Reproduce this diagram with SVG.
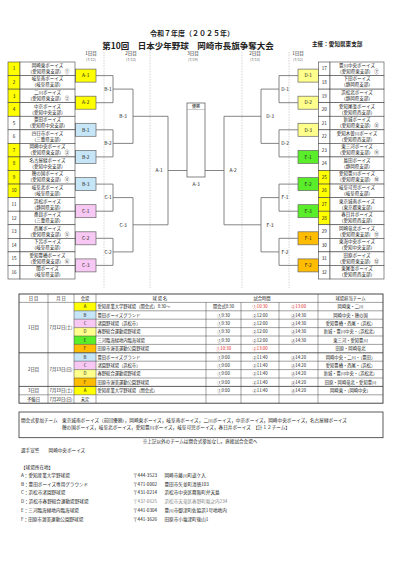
<svg xmlns="http://www.w3.org/2000/svg" width="401" height="568" viewBox="0 0 401 568">
<style>
text{font-family:"Noto Sans CJK JP","Noto Sans",sans-serif;fill:#222}
.ttl{font-weight:bold}
.hd{font-size:4.5px;text-anchor:middle}
.dt{font-size:3.6px;text-anchor:middle;fill:#666}
.num{font-size:4.6px;text-anchor:middle}
.nm{font-size:4.5px;text-anchor:middle}
.lb{font-size:4.8px;text-anchor:middle}
.cell{fill:#fff;stroke:#444;stroke-width:0.6}
.cy{fill:#ffff00;stroke:#444;stroke-width:0.6}
.bx{stroke:#666;stroke-width:0.7}
.ya{fill:#ffff00}.bb{fill:#c6e6f8}.cc{fill:#f8c8f4}.dd{fill:#ffff8c}.ee{fill:#5aee2a}.ff{fill:#ffbc00}
.dash{stroke:#bbb;stroke-width:0.6;stroke-dasharray:1.5 1.2;fill:none}
.ln{stroke:#777;stroke-width:0.9;fill:none}
.tb{font-size:4.3px}
.tc{font-size:4.3px;text-anchor:middle}
.red{fill:#e02020}
.gl{stroke:#444;stroke-width:0.5;fill:none}
.nt{font-size:4.6px}
.gr{fill:#888}
</style>

<!-- titles -->
<text x="192" y="36" class="ttl" style="font-size:7px;text-anchor:middle">令和７年度（２０２５年）</text>
<text x="188" y="48.5" class="ttl" style="font-size:8.5px;text-anchor:middle">第10回　日本少年野球　岡崎市長旗争奪大会</text>
<text x="312" y="45.5" class="ttl" style="font-size:5.6px">主催：愛知県東支部</text>

<!-- round headers -->
<text x="91" y="55" class="hd">1日目</text><text x="91" y="60.5" class="dt">(7/12)</text>
<text x="131" y="55" class="hd">2日目</text><text x="131" y="60.5" class="dt">(7/13)</text>
<text x="193" y="55" class="hd">3日目</text><text x="193" y="60.5" class="dt">(7/19)</text>
<text x="255" y="55" class="hd">2日目</text><text x="255" y="60.5" class="dt">(7/13)</text>
<text x="298" y="55" class="hd">1日目</text><text x="298" y="60.5" class="dt">(7/12)</text>
<path class="dash" d="M104 52V288M150 52V288M242 52V288M289 52V288"/>

<!-- connectors -->
<g id="connectors">
<path class="ln" d="M96 75.6H113V102.7H96M113 89.1H133M96 129.8H113V156.9H96M113 143.4H133M96 184.1H113V211.2H96M113 197.6H133M96 238.3H113V265.4H96M113 251.9H133M133 89.1V143.4M133 116.3H168M133 197.6V251.9M133 224.8H168M168 116.3V224.8M168 170.5H187"/>
<path class="ln" d="M298 75.6H279V102.7H298M279 89.1H261M298 129.8H279V156.9H298M279 143.4H261M298 184.1H279V211.2H298M279 197.6H261M298 238.3H279V265.4H298M279 251.9H261M261 89.1V143.4M261 116.3H224M261 197.6V251.9M261 224.8H224M224 116.3V224.8M224 170.5H205"/>
<text x="108" y="90.8" class="lb">B-1</text>
<text x="108" y="145.1" class="lb">B-2</text>
<text x="108" y="199.3" class="lb">C-1</text>
<text x="108" y="253.6" class="lb">C-2</text>
<text x="123" y="118" class="lb">B-3</text>
<text x="123" y="226.5" class="lb">C-3</text>
<text x="159" y="172.2" class="lb">A-1</text>
<text x="285" y="90.8" class="lb">D-1</text>
<text x="285" y="145.1" class="lb">D-2</text>
<text x="285" y="199.3" class="lb">F-1</text>
<text x="285" y="253.6" class="lb">F-2</text>
<text x="270" y="118" class="lb">D-3</text>
<text x="270" y="226.5" class="lb">F-3</text>
<text x="233" y="172.2" class="lb">A-2</text>
<text x="196" y="185.5" class="lb">A-3</text>
</g>

<!-- final -->
<g id="final">
<rect x="187" y="103" width="18" height="74" fill="#fff" stroke="#666" stroke-width="0.8"/>
<line x1="187" y1="109.5" x2="205" y2="109.5" stroke="#999" stroke-width="0.5"/>
<text x="196" y="108.3" style="font-size:4px;text-anchor:middle">優勝</text>
</g>

<!-- first round match boxes -->
<g id="m-A1"><rect x="75.5" y="69.1" width="20.5" height="13" class="bx ya"/><text x="85.7" y="77.3" class="lb">A-1</text></g>
<g id="m-A2"><rect x="75.5" y="96.2" width="20.5" height="13" class="bx ya"/><text x="85.7" y="104.4" class="lb">A-2</text></g>
<g id="m-B1"><rect x="75.5" y="123.3" width="20.5" height="13" class="bx bb"/><text x="85.7" y="131.5" class="lb">B-1</text></g>
<g id="m-B2"><rect x="75.5" y="150.4" width="20.5" height="13" class="bx bb"/><text x="85.7" y="158.6" class="lb">B-2</text></g>
<g id="m-B3"><rect x="75.5" y="177.6" width="20.5" height="13" class="bx bb"/><text x="85.7" y="185.8" class="lb">B-3</text></g>
<g id="m-C1"><rect x="75.5" y="204.7" width="20.5" height="13" class="bx cc"/><text x="85.7" y="212.9" class="lb">C-1</text></g>
<g id="m-C2"><rect x="75.5" y="231.8" width="20.5" height="13" class="bx cc"/><text x="85.7" y="240" class="lb">C-2</text></g>
<g id="m-C3"><rect x="75.5" y="258.9" width="20.5" height="13" class="bx cc"/><text x="85.7" y="267.1" class="lb">C-3</text></g>

<g id="m-D1"><rect x="298" y="69.1" width="20.5" height="13" class="bx dd"/><text x="308.2" y="77.3" class="lb">D-1</text></g>
<g id="m-D2"><rect x="298" y="96.2" width="20.5" height="13" class="bx dd"/><text x="308.2" y="104.4" class="lb">D-2</text></g>
<g id="m-D3"><rect x="298" y="123.3" width="20.5" height="13" class="bx dd"/><text x="308.2" y="131.5" class="lb">D-3</text></g>
<g id="m-E1"><rect x="298" y="150.4" width="20.5" height="13" class="bx ee"/><text x="308.2" y="158.6" class="lb">E-1</text></g>
<g id="m-E2"><rect x="298" y="177.6" width="20.5" height="13" class="bx ee"/><text x="308.2" y="185.8" class="lb">E-2</text></g>
<g id="m-E3"><rect x="298" y="204.7" width="20.5" height="13" class="bx ee"/><text x="308.2" y="212.9" class="lb">E-3</text></g>
<g id="m-F1"><rect x="298" y="231.8" width="20.5" height="13" class="bx ff"/><text x="308.2" y="240" class="lb">F-1</text></g>
<g id="m-F2"><rect x="298" y="258.9" width="20.5" height="13" class="bx ff"/><text x="308.2" y="267.1" class="lb">F-2</text></g>

<!-- left teams -->
<g id="team-1" transform="translate(0,62)"><rect x="8" width="12" height="13.56" class="cy"/><rect x="20" width="55" height="13.56" class="cell"/><text x="14" y="8.4" class="num">1</text><text x="47.5" y="4.9" class="nm">岡崎東ボーイズ</text><text x="48.5" y="10.9" class="nm">（愛知県東支部） ①</text></g>
<g id="team-2" transform="translate(0,75.56)"><rect x="8" width="12" height="13.56" class="cy"/><rect x="20" width="55" height="13.56" class="cell"/><text x="14" y="8.4" class="num">2</text><text x="47.5" y="4.9" class="nm">岐阜南ボーイズ</text><text x="47.5" y="10.9" class="nm">（岐阜県支部）</text></g>
<g id="team-3" transform="translate(0,89.13)"><rect x="8" width="12" height="13.56" class="cy"/><rect x="20" width="55" height="13.56" class="cell"/><text x="14" y="8.4" class="num">3</text><text x="47.5" y="4.9" class="nm">二川ボーイズ</text><text x="48.5" y="10.9" class="nm">（愛知県東支部） ②</text></g>
<g id="team-4" transform="translate(0,102.69)"><rect x="8" width="12" height="13.56" class="cy"/><rect x="20" width="55" height="13.56" class="cell"/><text x="14" y="8.4" class="num">4</text><text x="47.5" y="4.9" class="nm">中京ボーイズ</text><text x="47.5" y="10.9" class="nm">（愛知中央支部）</text></g>
<g id="team-5" transform="translate(0,116.25)"><rect x="8" width="12" height="13.56" class="cell"/><rect x="20" width="55" height="13.56" class="cell"/><text x="14" y="8.4" class="num">5</text><text x="47.5" y="4.9" class="nm">豊田ボーイズ</text><text x="47.5" y="10.9" class="nm">（愛知県中央支部）</text></g>
<g id="team-6" transform="translate(0,129.81)"><rect x="8" width="12" height="13.56" class="cell"/><rect x="20" width="55" height="13.56" class="cell"/><text x="14" y="8.4" class="num">6</text><text x="47.5" y="4.9" class="nm">四日市ボーイズ</text><text x="47.5" y="10.9" class="nm">（三重県支部）</text></g>
<g id="team-7" transform="translate(0,143.38)"><rect x="8" width="12" height="13.56" class="cy"/><rect x="20" width="55" height="13.56" class="cell"/><text x="14" y="8.4" class="num">7</text><text x="47.5" y="4.9" class="nm">岡崎中央ボーイズ</text><text x="48.5" y="10.9" class="nm">（愛知県東支部） ③</text></g>
<g id="team-8" transform="translate(0,156.94)"><rect x="8" width="12" height="13.56" class="cy"/><rect x="20" width="55" height="13.56" class="cell"/><text x="14" y="8.4" class="num">8</text><text x="47.5" y="4.9" class="nm">名古屋緑ボーイズ</text><text x="47.5" y="10.9" class="nm">（愛知中央支部）</text></g>
<g id="team-9" transform="translate(0,170.5)"><rect x="8" width="12" height="13.56" class="cy"/><rect x="20" width="55" height="13.56" class="cell"/><text x="14" y="8.4" class="num">9</text><text x="47.5" y="4.9" class="nm">穂の国ボーイズ</text><text x="48.5" y="10.9" class="nm">（愛知県東支部） ④</text></g>
<g id="team-10" transform="translate(0,184.06)"><rect x="8" width="12" height="13.56" class="cy"/><rect x="20" width="55" height="13.56" class="cell"/><text x="14" y="8.4" class="num">10</text><text x="47.5" y="4.9" class="nm">岐阜北ボーイズ</text><text x="47.5" y="10.9" class="nm">（岐阜県支部）</text></g>
<g id="team-11" transform="translate(0,197.63)"><rect x="8" width="12" height="13.56" class="cell"/><rect x="20" width="55" height="13.56" class="cell"/><text x="14" y="8.4" class="num">11</text><text x="47.5" y="4.9" class="nm">浜松ボーイズ</text><text x="47.5" y="10.9" class="nm">（静岡県支部）</text></g>
<g id="team-12" transform="translate(0,211.19)"><rect x="8" width="12" height="13.56" class="cell"/><rect x="20" width="55" height="13.56" class="cell"/><text x="14" y="8.4" class="num">12</text><text x="47.5" y="4.9" class="nm">桑員ボーイズ</text><text x="47.5" y="10.9" class="nm">（三重県支部）</text></g>
<g id="team-13" transform="translate(0,224.75)"><rect x="8" width="12" height="13.56" class="cell"/><rect x="20" width="55" height="13.56" class="cell"/><text x="14" y="8.4" class="num">13</text><text x="47.5" y="4.9" class="nm">西尾ボーイズ</text><text x="48.5" y="10.9" class="nm">（愛知県東支部） ⑤</text></g>
<g id="team-14" transform="translate(0,238.31)"><rect x="8" width="12" height="13.56" class="cell"/><rect x="20" width="55" height="13.56" class="cell"/><text x="14" y="8.4" class="num">14</text><text x="47.5" y="4.9" class="nm">下呂ボーイズ</text><text x="47.5" y="10.9" class="nm">（岐阜県支部）</text></g>
<g id="team-15" transform="translate(0,251.88)"><rect x="8" width="12" height="13.56" class="cell"/><rect x="20" width="55" height="13.56" class="cell"/><text x="14" y="8.4" class="num">15</text><text x="47.5" y="4.9" class="nm">愛知豊橋ボーイズ</text><text x="48.5" y="10.9" class="nm">（愛知県東支部） ⑥</text></g>
<g id="team-16" transform="translate(0,265.44)"><rect x="8" width="12" height="13.56" class="cell"/><rect x="20" width="55" height="13.56" class="cell"/><text x="14" y="8.4" class="num">16</text><text x="47.5" y="4.9" class="nm">関ボーイズ</text><text x="47.5" y="10.9" class="nm">（岐阜県支部）</text></g>

<!-- right teams -->
<g id="team-17" transform="translate(0,62)"><rect x="318.5" width="11.5" height="13.56" class="cell"/><rect x="330" width="54" height="13.56" class="cell"/><text x="324.3" y="8.4" class="num">17</text><text x="357" y="4.9" class="nm">豊川中央ボーイズ</text><text x="358" y="10.9" class="nm">（愛知県東支部） ⑦</text></g>
<g id="team-18" transform="translate(0,75.56)"><rect x="318.5" width="11.5" height="13.56" class="cell"/><rect x="330" width="54" height="13.56" class="cell"/><text x="324.3" y="8.4" class="num">18</text><text x="357" y="4.9" class="nm">下田ボーイズ</text><text x="357" y="10.9" class="nm">（静岡県支部）</text></g>
<g id="team-19" transform="translate(0,89.13)"><rect x="318.5" width="11.5" height="13.56" class="cell"/><rect x="330" width="54" height="13.56" class="cell"/><text x="324.3" y="8.4" class="num">19</text><text x="357" y="4.9" class="nm">浜松北ボーイズ</text><text x="357" y="10.9" class="nm">（静岡県支部）</text></g>
<g id="team-20" transform="translate(0,102.69)"><rect x="318.5" width="11.5" height="13.56" class="cell"/><rect x="330" width="54" height="13.56" class="cell"/><text x="324.3" y="8.4" class="num">20</text><text x="357" y="4.9" class="nm">愛知尾張ボーイズ</text><text x="357" y="10.9" class="nm">（愛知県西支部）</text></g>
<g id="team-21" transform="translate(0,116.25)"><rect x="318.5" width="11.5" height="13.56" class="cell"/><rect x="330" width="54" height="13.56" class="cell"/><text x="324.3" y="8.4" class="num">21</text><text x="357" y="4.9" class="nm">新城ボーイズ</text><text x="358" y="10.9" class="nm">（愛知県東支部） ⑧</text></g>
<g id="team-22" transform="translate(0,129.81)"><rect x="318.5" width="11.5" height="13.56" class="cell"/><rect x="330" width="54" height="13.56" class="cell"/><text x="324.3" y="8.4" class="num">22</text><text x="357" y="4.9" class="nm">愛知木曽川ボーイズ</text><text x="357" y="10.9" class="nm">（愛知県西支部）</text></g>
<g id="team-23" transform="translate(0,143.38)"><rect x="318.5" width="11.5" height="13.56" class="cell"/><rect x="330" width="54" height="13.56" class="cell"/><text x="324.3" y="8.4" class="num">23</text><text x="357" y="4.9" class="nm">東三河ボーイズ</text><text x="358" y="10.9" class="nm">（愛知県東支部） ⑨</text></g>
<g id="team-24" transform="translate(0,156.94)"><rect x="318.5" width="11.5" height="13.56" class="cell"/><rect x="330" width="54" height="13.56" class="cell"/><text x="324.3" y="8.4" class="num">24</text><text x="357" y="4.9" class="nm">島田ボーイズ</text><text x="357" y="10.9" class="nm">（静岡県支部）</text></g>
<g id="team-25" transform="translate(0,170.5)"><rect x="318.5" width="11.5" height="13.56" class="cy"/><rect x="330" width="54" height="13.56" class="cell"/><text x="324.3" y="8.4" class="num">25</text><text x="357" y="4.9" class="nm">愛知豊川ボーイズ</text><text x="358" y="10.9" class="nm">（愛知県東支部） ⑩</text></g>
<g id="team-26" transform="translate(0,184.06)"><rect x="318.5" width="11.5" height="13.56" class="cy"/><rect x="330" width="54" height="13.56" class="cell"/><text x="324.3" y="8.4" class="num">26</text><text x="357" y="4.9" class="nm">岐阜可児ボーイズ</text><text x="357" y="10.9" class="nm">（岐阜県支部）</text></g>
<g id="team-27" transform="translate(0,197.63)"><rect x="318.5" width="11.5" height="13.56" class="cy"/><rect x="330" width="54" height="13.56" class="cell"/><text x="324.3" y="8.4" class="num">27</text><text x="357" y="4.9" class="nm">東京城南ボーイズ</text><text x="357" y="10.9" class="nm">（東京都東支部）</text></g>
<g id="team-28" transform="translate(0,211.19)"><rect x="318.5" width="11.5" height="13.56" class="cy"/><rect x="330" width="54" height="13.56" class="cell"/><text x="324.3" y="8.4" class="num">28</text><text x="357" y="4.9" class="nm">春日井ボーイズ</text><text x="357" y="10.9" class="nm">（愛知県西支部）</text></g>
<g id="team-29" transform="translate(0,224.75)"><rect x="318.5" width="11.5" height="13.56" class="cell"/><rect x="330" width="54" height="13.56" class="cell"/><text x="324.3" y="8.4" class="num">29</text><text x="357" y="4.9" class="nm">岡崎竜北ボーイズ</text><text x="358" y="10.9" class="nm">（愛知県東支部） ⑪</text></g>
<g id="team-30" transform="translate(0,238.31)"><rect x="318.5" width="11.5" height="13.56" class="cell"/><rect x="330" width="54" height="13.56" class="cell"/><text x="324.3" y="8.4" class="num">30</text><text x="357" y="4.9" class="nm">東海中央ボーイズ</text><text x="357" y="10.9" class="nm">（愛知中央支部）</text></g>
<g id="team-31" transform="translate(0,251.88)"><rect x="318.5" width="11.5" height="13.56" class="cell"/><rect x="330" width="54" height="13.56" class="cell"/><text x="324.3" y="8.4" class="num">31</text><text x="357" y="4.9" class="nm">田原ボーイズ</text><text x="358" y="10.9" class="nm">（愛知県東支部） ⑫</text></g>
<g id="team-32" transform="translate(0,265.44)"><rect x="318.5" width="11.5" height="13.56" class="cell"/><rect x="330" width="54" height="13.56" class="cell"/><text x="324.3" y="8.4" class="num">32</text><text x="357" y="4.9" class="nm">東尾張ボーイズ</text><text x="357" y="10.9" class="nm">（愛知県西支部）</text></g>

<!-- schedule table -->
<g id="schedule">
<rect x="74" y="302.4" width="22" height="8.4" class="ya"/>
<rect x="74" y="310.8" width="22" height="8.4" class="bb"/>
<rect x="74" y="319.2" width="22" height="8.4" class="cc"/>
<rect x="74" y="327.6" width="22" height="8.4" class="dd"/>
<rect x="74" y="336" width="22" height="8.4" class="ee"/>
<rect x="74" y="344.4" width="22" height="8.4" class="ff"/>
<rect x="74" y="352.8" width="22" height="8.4" class="bb"/>
<rect x="74" y="361.2" width="22" height="8.4" class="cc"/>
<rect x="74" y="369.6" width="22" height="8.4" class="dd"/>
<rect x="74" y="378" width="22" height="8.4" class="ff"/>
<rect x="74" y="386.4" width="22" height="8.4" class="ya"/>
<path class="gl" d="M19 302.4H383M74 310.8H383M74 319.2H383M74 327.6H383M74 336H383M74 344.4H383M74 361.2H383M74 369.6H383M74 378H383M19 394.8H383M48 294V403.2M74 294V403.2M96 294V403.2M206 302.4V403.2M241 302.4V403.2M279 302.4V403.2M318 294V403.2"/>
<path d="M19 352.8H383M19 386.4H383" stroke="#333" stroke-width="0.8"/>
<rect x="19" y="294" width="364" height="109.2" fill="none" stroke="#333" stroke-width="0.9"/>
<text x="33.5" y="299.8" class="tc">日 目</text>
<text x="61" y="299.8" class="tc">月 日</text>
<text x="85" y="299.8" class="tc">会場</text>
<text x="160" y="299.8" class="tc">球 場 名</text>
<text x="262" y="299.8" class="tc">試合時間</text>
<text x="350.5" y="299.8" class="tc">球場担当チーム</text>

<text x="33.5" y="329.1" class="tc">1日目</text>
<text x="61" y="329.1" class="tc">7月12日(土)</text>
<text x="33.5" y="371.1" class="tc">2日目</text>
<text x="61" y="371.1" class="tc">7月13日(日)</text>
<text x="33.5" y="392.1" class="tc">3日目</text>
<text x="61" y="392.1" class="tc">7月19日(土)</text>
<text x="33.5" y="400.5" class="tc">予備日</text>
<text x="61" y="400.5" class="tc">7月20日(日)</text>

<text x="85" y="308.1" class="tc">A</text>
<text x="85" y="316.5" class="tc">B</text>
<text x="85" y="324.9" class="tc">C</text>
<text x="85" y="333.3" class="tc">D</text>
<text x="85" y="341.7" class="tc">E</text>
<text x="85" y="350.1" class="tc">F</text>
<text x="85" y="358.5" class="tc">B</text>
<text x="85" y="366.9" class="tc">C</text>
<text x="85" y="375.3" class="tc">D</text>
<text x="85" y="383.7" class="tc">F</text>
<text x="85" y="392.1" class="tc">A</text>
<text x="85" y="400.5" class="tc">未定</text>

<text x="97.5" y="308.1" class="tb">愛知産業大学野球場（開会式）8:30～</text>
<text x="97.5" y="316.5" class="tb">豊田ボーイズグランド</text>
<text x="97.5" y="324.9" class="tb">渚園野球場（浜松市）</text>
<text x="97.5" y="333.3" class="tb">春野総合運動場野球場</text>
<text x="97.5" y="341.7" class="tb">三河臨海緑地内臨海球場</text>
<text x="97.5" y="350.1" class="tb">田原市渥美運動公園野球場</text>
<text x="97.5" y="358.5" class="tb">豊田ボーイズグランド</text>
<text x="97.5" y="366.9" class="tb">渚園野球場（浜松市）</text>
<text x="97.5" y="375.3" class="tb">春野総合運動場野球場</text>
<text x="97.5" y="383.7" class="tb">田原市渥美運動公園野球場</text>
<text x="97.5" y="392.1" class="tb">愛知産業大学野球場（閉会式）</text>

<text x="223.5" y="308.1" class="tc">開会式8:30</text>
<text x="260" y="308.1" class="tc red">①10:30</text>
<text x="298.5" y="308.1" class="tc red">②13:00</text>
<text x="350.5" y="308.1" class="tc">岡崎東・二川</text>

<text x="223.5" y="316.5" class="tc">①9:30</text><text x="260" y="316.5" class="tc">②12:00</text><text x="298.5" y="316.5" class="tc">③14:30</text><text x="350.5" y="316.5" class="tc">岡崎中央・穂の国</text>
<text x="223.5" y="324.9" class="tc">①9:30</text><text x="260" y="324.9" class="tc">②12:00</text><text x="298.5" y="324.9" class="tc">③14:30</text><text x="350.5" y="324.9" class="tc">愛知豊橋・西尾・（浜松）</text>
<text x="223.5" y="333.3" class="tc">①9:30</text><text x="260" y="333.3" class="tc">②12:00</text><text x="298.5" y="333.3" class="tc">③14:30</text><text x="350.5" y="333.3" class="tc">新城・豊川中央・（浜松北）</text>
<text x="223.5" y="341.7" class="tc">①9:30</text><text x="260" y="341.7" class="tc">②12:00</text><text x="298.5" y="341.7" class="tc">③14:30</text><text x="350.5" y="341.7" class="tc">東三河・愛知豊川</text>
<text x="223.5" y="350.1" class="tc red">①10:30</text><text x="260" y="350.1" class="tc red">②13:00</text><text x="350.5" y="350.1" class="tc">田原・岡崎竜北</text>
<text x="223.5" y="358.5" class="tc">①9:00</text><text x="260" y="358.5" class="tc">②11:40</text><text x="298.5" y="358.5" class="tc">③14:20</text><text x="350.5" y="358.5" class="tc">岡崎中央・二川・（豊田）</text>
<text x="223.5" y="366.9" class="tc">①9:00</text><text x="260" y="366.9" class="tc">②11:40</text><text x="298.5" y="366.9" class="tc">③14:20</text><text x="350.5" y="366.9" class="tc">愛知豊橋・西尾・（浜松）</text>
<text x="223.5" y="375.3" class="tc">①9:00</text><text x="260" y="375.3" class="tc">②11:40</text><text x="298.5" y="375.3" class="tc">③14:20</text><text x="350.5" y="375.3" class="tc">新城・豊川中央・（浜松北）</text>
<text x="223.5" y="383.7" class="tc">①9:00</text><text x="260" y="383.7" class="tc">②11:40</text><text x="298.5" y="383.7" class="tc">③14:20</text><text x="350.5" y="383.7" class="tc">田原・岡崎竜北・愛知豊川</text>
<text x="223.5" y="392.1" class="tc">①9:00</text><text x="260" y="392.1" class="tc">②11:40</text><text x="298.5" y="392.1" class="tc">③14:20</text><text x="350.5" y="392.1" class="tc">岡崎東・（岡崎中央）</text>
</g>

<!-- notes -->
<rect x="19" y="412" width="364" height="25.7" fill="none" stroke="#333" stroke-width="0.8"/>
<text x="21" y="421.6" class="nt">開会式参加チーム</text>
<text x="62" y="421.6" class="nt" textLength="285" lengthAdjust="spacingAndGlyphs">東京城南ボーイズ（前回優勝），岡崎東ボーイズ，岐阜南ボーイズ，二川ボーイズ，中京ボーイズ，岡崎中央ボーイズ，名古屋緑ボーイズ</text>
<text x="62" y="429.3" class="nt" textLength="228" lengthAdjust="spacingAndGlyphs">穂の国ボーイズ，岐阜北ボーイズ，愛知豊川ボーイズ，岐阜可児ボーイズ，春日井ボーイズ　【計１２チーム】</text>
<text x="200" y="443.3" class="nt" style="text-anchor:middle">※上記以外のチームは開会式参加なし。直接試合会場へ</text>
<text x="21" y="451.6" class="nt">選手宣誓　　岡崎中央ボーイズ</text>
<text x="21" y="469" class="nt">【球場所在地】</text>
<text x="21" y="476.6" class="nt">A：愛知産業大学野球場</text><text x="133" y="476.6" class="nt">〒444-3523</text><text x="164.5" y="476.6" class="nt">岡崎市藤川町道ケ入</text>
<text x="21" y="485.6" class="nt">B：豊田ボーイズ専用グラウンド</text><text x="133" y="485.6" class="nt">〒471-0002</text><text x="164.5" y="485.6" class="nt">豊田市矢並町清徳103</text>
<text x="21" y="494.4" class="nt">C：浜松市渚園野球場</text><text x="133" y="494.4" class="nt">〒431-0214</text><text x="164.5" y="494.4" class="nt">浜松市中央区舞阪町弁天島</text>
<text x="21" y="503.3" class="nt">D：浜松市春野総合運動場野球場</text><text x="133" y="503.3" class="nt gr">〒437-0625</text><text x="164.5" y="503.3" class="nt gr">浜松市天竜区春野町堀之内234</text>
<text x="21" y="512.3" class="nt">E：三河臨海緑地内臨海球場</text><text x="133" y="512.3" class="nt">〒441-0304</text><text x="164.5" y="512.3" class="nt">豊川市御津町佐脇浜1号地地内</text>
<text x="21" y="520.6" class="nt">F：田原市渥美運動公園野球場</text><text x="133" y="520.6" class="nt">〒441-3626</text><text x="164.5" y="520.6" class="nt">田原市小塩津町後山1</text>
</svg>
